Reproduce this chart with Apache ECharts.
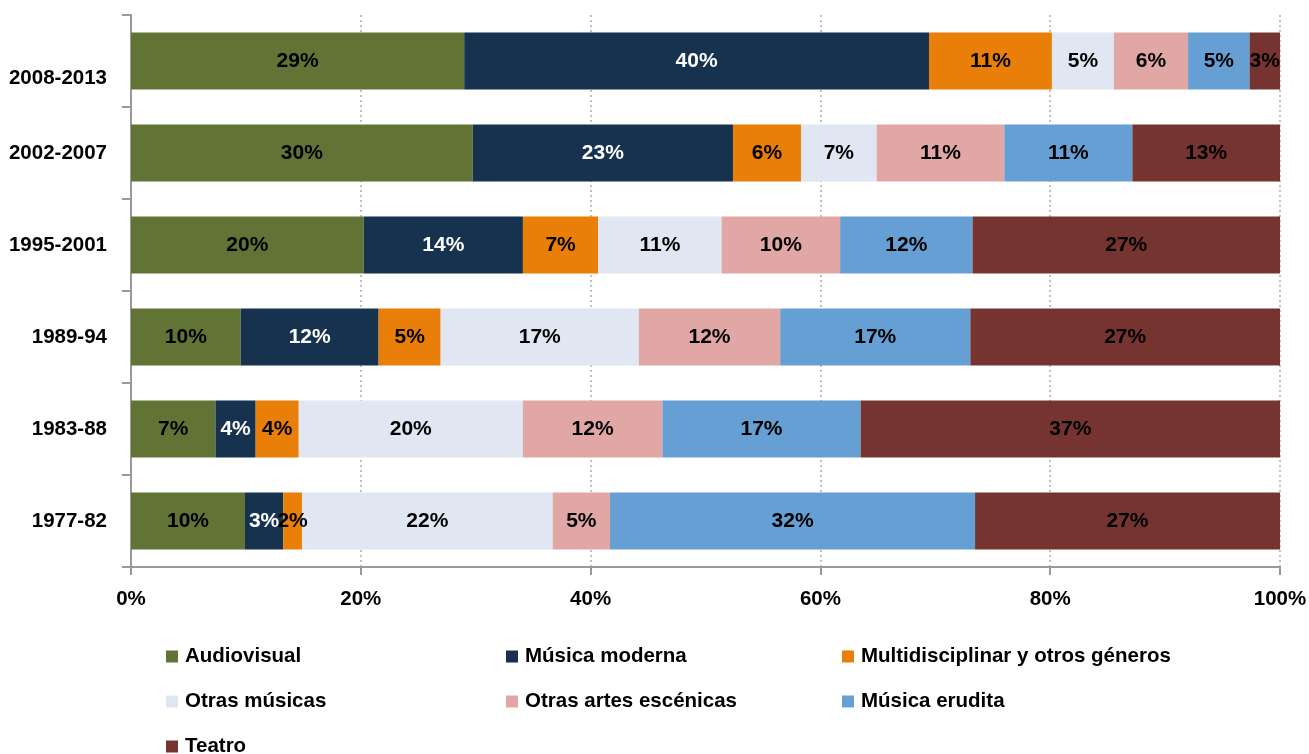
<!DOCTYPE html>
<html>
<head>
<meta charset="utf-8">
<script src="https://cdn.jsdelivr.net/npm/echarts@6/dist/echarts.min.js"></script>
<style>
  html, body { margin: 0; padding: 0; background: #fff; }
  #chart { width: 1309px; height: 754px; }
</style>
</head>
<body>
<div id="chart"></div>
<script>
  // periods, top to bottom
  var categories = ['2008-2013', '2002-2007', '1995-2001', '1989-94', '1983-88', '1977-82'];
  var xTicks = [0, 20, 40, 60, 80, 100];

  // shares in %, same order as categories
  var audiovisual      = [29.0, 29.74, 20.25, 9.55, 7.35, 9.92];
  var musicaModerna    = [40.45, 22.65, 13.86, 12.0, 3.5, 3.33];
  var multidisciplinar = [10.7, 5.92, 6.55, 5.4, 3.75, 1.63];
  var otrasMusicas     = [5.4, 6.59, 10.74, 17.25, 19.5, 21.82];
  var otrasArtes       = [6.45, 11.11, 10.32, 12.3, 12.15, 4.99];
  var musicaErudita    = [5.35, 11.14, 11.52, 16.55, 17.25, 31.77];
  var teatro           = [2.65, 12.85, 26.76, 26.95, 36.5, 26.54];

  var FONT = "'Liberation Sans', Arial, sans-serif";
  var FS = 20.5;

  var seriesDefs = [
    { name: 'Audiovisual', data: audiovisual, color: '#627435', text: '#000' },
    { name: 'Música moderna', data: musicaModerna, color: '#16324f', text: '#fff' },
    { name: 'Multidisciplinar y otros géneros', data: multidisciplinar, color: '#e97f08', text: '#000' },
    { name: 'Otras músicas', data: otrasMusicas, color: '#e0e7f2', text: '#000' },
    { name: 'Otras artes escénicas', data: otrasArtes, color: '#e0a7a5', text: '#000' },
    { name: 'Música erudita', data: musicaErudita, color: '#669fd4', text: '#000' },
    { name: 'Teatro', data: teatro, color: '#763430', text: '#000' }
  ];

  // legend is a 3 column grid, one legend per entry so columns line up
  var legendCols = [166, 506, 842];
  var legendRows = [646, 691, 736];
  var legendSlots = [[0, 0], [1, 0], [2, 0], [0, 1], [1, 1], [2, 1], [0, 2]];

  function makeLegend(name, slot) {
    return {
      data: [name],
      left: legendCols[slot[0]],
      top: legendRows[slot[1]],
      padding: 0,
      icon: 'rect',
      itemWidth: 12,
      itemHeight: 12,
      selectedMode: false,
      textStyle: { fontFamily: FONT, fontWeight: 'bold', fontSize: FS, color: '#000', padding: [0, 0, 0, 2] }
    };
  }

  var option = {
    animation: false,
    backgroundColor: '#fff',
    grid: { left: 131, right: 29, top: 15, bottom: 187, outerBoundsMode: 'none', containLabel: false },
    legend: seriesDefs.map(function (s, i) { return makeLegend(s.name, legendSlots[i]); }),
    xAxis: {
      type: 'value',
      min: xTicks[0],
      max: xTicks[xTicks.length - 1],
      interval: xTicks[1] - xTicks[0],
      axisLine: { show: true, lineStyle: { color: '#999', width: 2 } },
      axisTick: { show: true, length: 8, lineStyle: { color: '#999', width: 2 } },
      axisLabel: { formatter: '{value}%', margin: 22, fontFamily: FONT, fontWeight: 'bold', fontSize: FS, color: '#000' },
      splitLine: { show: true, lineStyle: { color: '#c0c0c0', width: 2, type: [2, 3] } }
    },
    yAxis: {
      type: 'category',
      inverse: true,
      data: categories,
      axisLine: { show: true, lineStyle: { color: '#999', width: 2 } },
      axisTick: { show: true, length: 9, lineStyle: { color: '#999', width: 2 } },
      axisLabel: {
        margin: 24,
        fontFamily: FONT,
        fontWeight: 'bold',
        fontSize: FS,
        color: '#000',
        // the top label sits lower than its bar in the original
        formatter: function (v, i) { return i === 0 ? '{low|' + v + '}' : v; },
        rich: {
          low: { fontFamily: FONT, fontWeight: 'bold', fontSize: FS, color: '#000', padding: [34, 0, 0, 0] }
        }
      },
      splitLine: { show: false }
    },
    series: seriesDefs.map(function (s) {
      return {
        name: s.name,
        type: 'bar',
        stack: 'total',
        barWidth: 57,
        data: s.data,
        itemStyle: { color: s.color },
        label: {
          show: true,
          position: 'inside',
          fontFamily: FONT,
          fontWeight: 'bold',
          fontSize: 21,
          color: s.text,
          formatter: function (p) { return Math.round(p.value) + '%'; }
        }
      };
    })
  };

  var chart = echarts.init(document.getElementById('chart'));
  chart.setOption(option);
</script>
</body>
</html>
